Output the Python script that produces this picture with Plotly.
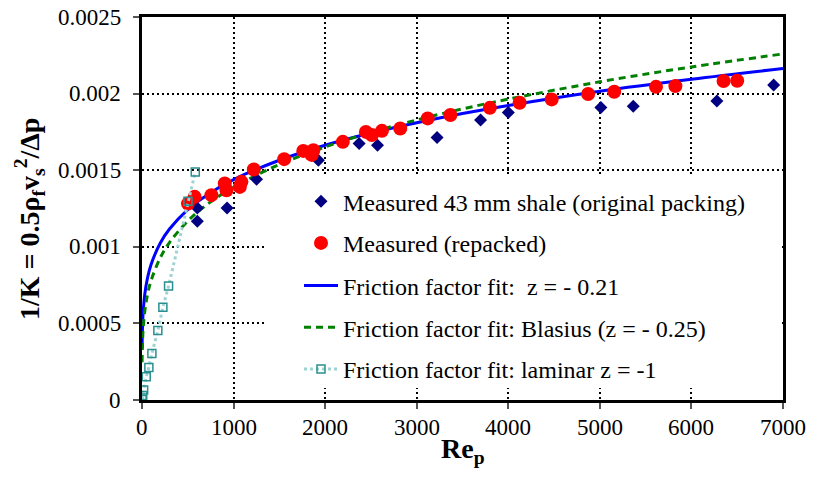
import plotly.graph_objects as go

# ---- data -------------------------------------------------------------
# Measured 43 mm shale, original packing
orig_re = [604, 604, 929, 1251, 1926, 2371, 2572, 3222, 3697, 4000, 5011, 5365, 6278, 6898]
orig_k = [0.001254, 0.001167, 0.001254, 0.001441, 0.001565, 0.001674, 0.001663, 0.001713,
          0.001827, 0.001877, 0.001910, 0.001918, 0.001951, 0.002056]

# Measured, repacked bed
rep_re = [502, 575, 758, 904, 922, 1068, 1086, 1221, 1553, 1761, 1853, 1871, 2193, 2445,
          2510, 2620, 2820, 3120, 3368, 3799, 4124, 4474, 4872, 5157, 5613, 5825, 6351, 6500]
rep_k = [0.001282, 0.001326, 0.001337, 0.001413, 0.001369, 0.001391, 0.001424, 0.001505,
         0.001572, 0.001626, 0.001600, 0.001630, 0.001685, 0.001750, 0.001729, 0.001757,
         0.001772, 0.001838, 0.001860, 0.001907, 0.001940, 0.001962, 0.001997, 0.002012,
         0.002044, 0.002049, 0.002082, 0.002084]

# Friction factor fit curves (z = -0.21 and Blasius z = -0.25)
fit_re = [1, 10, 30, 60, 100, 200, 300, 500, 700, 1000, 1500, 2000, 2500, 3000, 3500,
          4000, 5000, 6000, 7000]
fit021_k = [0.000337, 0.000547, 0.000689, 0.000796, 0.000886, 0.001025, 0.001116, 0.001243,
            0.001334, 0.001438, 0.001565, 0.001663, 0.001743, 0.001810, 0.001870, 0.001923,
            0.002016, 0.002094, 0.002164]
blasius_k = [0.000247, 0.000439, 0.000578, 0.000687, 0.000781, 0.000929, 0.001028, 0.001168,
             0.001271, 0.001389, 0.001537, 0.001652, 0.001747, 0.001828, 0.001900, 0.001964,
             0.002077, 0.002174, 0.002259]

# Laminar fit z = -1
lam_re = [1, 8, 18, 46, 75, 108, 173, 228, 290, 502, 582]
lam_k = [0.000003, 0.000030, 0.000065, 0.000152, 0.000212, 0.000304, 0.000454, 0.000605,
         0.000744, 0.001297, 0.001489]

x_ticks = [0, 1000, 2000, 3000, 4000, 5000, 6000, 7000]
x_tick_text = ["0", "1000", "2000", "3000", "4000", "5000", "6000", "7000"]
y_ticks = [0, 0.0005, 0.001, 0.0015, 0.002, 0.0025]
y_tick_text = ["0", "0.0005", "0.001", "0.0015", "0.002", "0.0025"]

FONT = "Liberation Serif"
W, H = 814, 484
L, R, T, B = 142, 31, 17, 84
PW, PH = W - L - R, H - T - B


def px_x(p):
    return (p - L) / PW


def px_y(p):
    return (H - B - p) / PH


fig = go.Figure()

fig.add_trace(go.Scatter(
    x=fit_re, y=fit021_k, mode="lines", line=dict(color="#0000ff", width=3, shape="spline"),
    name="Friction factor fit:\u00a0 z = - 0.21", legend="legend3"))
fig.add_trace(go.Scatter(
    x=fit_re, y=blasius_k, mode="lines",
    line=dict(color="#008000", width=3, dash="7px,5px", shape="spline"),
    name="Friction factor fit: Blasius (z = - 0.25)", legend="legend4"))
fig.add_trace(go.Scatter(
    x=orig_re, y=orig_k, mode="markers",
    marker=dict(symbol="diamond", size=10, color="#000080"),
    name="Measured 43 mm shale (original packing)", legend="legend"))
fig.add_trace(go.Scatter(
    x=rep_re, y=rep_k, mode="markers",
    marker=dict(symbol="circle", size=14, color="#ff0000"),
    name="Measured (repacked)", legend="legend2"))
fig.add_trace(go.Scatter(
    x=lam_re, y=lam_k, mode="lines+markers",
    line=dict(color="#9fd3d3", width=3, dash="dot"),
    marker=dict(symbol="square-open", size=8, color="#2a8f8f", line=dict(width=1.5)),
    name="Friction factor fit: laminar z = -1", legend="legend5"))

# legend entries, one per row
rows = [201.7, 243.3, 286.0, 327.7, 369.3]
names = ["legend", "legend2", "legend3", "legend4", "legend5"]
legends = {}
for nm, yc in zip(names, rows):
    legends[nm] = dict(
        x=px_x(299), y=px_y(yc), xanchor="left", yanchor="middle",
        bgcolor="rgba(0,0,0,0)", borderwidth=0, itemwidth=34,
        font=dict(family=FONT, size=24, color="black"))

# tick labels in the serif face
tick_font = dict(family=FONT, size=23, color="black")
tick_labels = []
for v, t in zip(x_ticks, x_tick_text):
    tick_labels.append(dict(text=t, xref="x", yref="paper", x=v, y=px_y(413),
                            xanchor="center", yanchor="top", showarrow=False,
                            font=tick_font))
for v, t in zip(y_ticks, y_tick_text):
    tick_labels.append(dict(text=t, xref="paper", yref="y", x=px_x(123), y=v,
                            xanchor="right", yanchor="middle", showarrow=False,
                            font=tick_font))

titles = [
    dict(text="<b>1/K = 0.5ρ<sub>f</sub>v<sub>s</sub><sup>2</sup>/Δp</b>",
         xref="paper", yref="paper", x=px_x(29), y=px_y(219),
         xanchor="center", yanchor="middle", textangle=-90, showarrow=False,
         font=dict(family=FONT, size=28, color="black")),
    dict(text="<b>Re<sub>p</sub></b>", xref="paper", yref="paper",
         x=0.5, y=px_y(450), xanchor="center", yanchor="middle", showarrow=False,
         font=dict(family=FONT, size=28, color="black")),
]

fig.update_layout(
    template="none",
    width=W, height=H,
    margin=dict(l=L, r=R, t=T, b=B),
    paper_bgcolor="white", plot_bgcolor="white",
    font=dict(family=FONT, size=22, color="black"),
    showlegend=True,
    xaxis=dict(range=[0, 7000], tickmode="array", tickvals=x_ticks, showticklabels=False),
    yaxis=dict(range=[0, 0.0025], tickmode="array", tickvals=y_ticks, showticklabels=False),
    shapes=[dict(type="rect", xref="paper", yref="paper", layer="above",
                 x0=px_x(267), x1=px_x(779), y0=px_y(388), y1=px_y(175),
                 fillcolor="white", line=dict(width=0))],
    annotations=tick_labels + titles,
    **legends,
)

axis_style = dict(
    showline=True, linecolor="black", linewidth=3, mirror=True,
    showgrid=True, gridcolor="black", gridwidth=2, griddash="2px,3px",
    zeroline=False, ticks="outside", ticklen=6, tickcolor="#555555", tickwidth=1.5)
fig.update_xaxes(**axis_style)
fig.update_yaxes(**axis_style)

fig.write_html("out.html")
